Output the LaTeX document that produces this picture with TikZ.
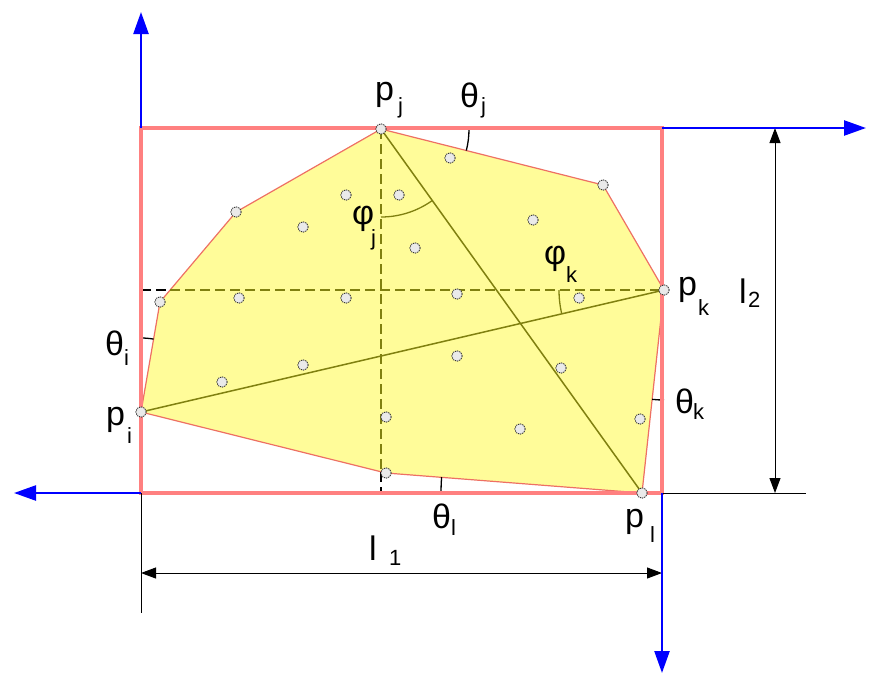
\documentclass[tikz,border=0pt]{standalone}
\usepackage{fontspec}
\setmainfont{Liberation Sans}
\usetikzlibrary{arrows.meta}
\definecolor{rectred}{RGB}{255,128,128}
\definecolor{hullfill}{RGB}{255,252,153}
\definecolor{hullline}{RGB}{238,112,100}
\definecolor{olivel}{RGB}{128,128,16}
\definecolor{ptfill}{RGB}{234,234,234}
\definecolor{axblue}{RGB}{0,0,255}
\begin{document}
\begin{tikzpicture}[x=1pt,y=-1pt,
  axis/.style={axblue,line width=2.4pt,-{Triangle[length=22pt,width=15pt]}},
  dimarrow/.style={black,line width=1pt,{Triangle[length=15pt,width=11pt]}-{Triangle[length=15pt,width=11pt]}},
  extline/.style={black,line width=1pt},
  olivesolid/.style={olivel,line width=1.5pt},
  olivedash/.style={olivel,line width=1.5pt,dash pattern=on 10pt off 5pt},
  blackdash/.style={black,line width=1.5pt,dash pattern=on 10pt off 5pt},
  tick/.style={black,line width=1.3pt},
  oarc/.style={olivel,line width=1.3pt},
  ptmark/.style={circle,minimum size=10.5pt,inner sep=0pt,fill=ptfill,draw=black!85,dash pattern=on 1.3pt off 0.9pt,line width=0.8pt},
  mainl/.style={font=\fontsize{34}{34}\selectfont,inner sep=0pt,anchor=base west},
  subl/.style={font=\fontsize{22}{22}\selectfont,inner sep=0pt,anchor=base west}]
\useasboundingbox (0,0) rectangle (876,681);
% key points
\coordinate (pI) at (141,412);
\coordinate (pJ) at (381,129);
\coordinate (pK) at (664,290);
\coordinate (pL) at (642,493);
\coordinate (h1) at (160,302);
\coordinate (h2) at (236,212);
\coordinate (h3) at (603,185);
\coordinate (h4) at (386,473);
% rectangle corners
\coordinate (rTL) at (141,128);
\coordinate (rTR) at (662,128);
\coordinate (rBL) at (141,493);
\coordinate (rBR) at (662,493);
% hull
\draw[fill=hullfill,draw=hullline,line width=1.2pt] (pI) -- (h1) -- (h2) -- (pJ) -- (h3) -- (pK) -- (pL) -- (h4) -- cycle;
% dashed lines
\coordinate (dL) at (141,290);
\coordinate (dM) at (170,290);
\coordinate (vM) at (381,472);
\coordinate (vB) at (381,493);
\draw[blackdash] (dL) -- (dM);
\draw[olivedash] (dM) -- (pK);
\draw[olivedash] (pJ) -- (vM);
\draw[blackdash] (vM) -- (vB);
% diagonals
\draw[olivesolid] (pJ) -- (pL);
\draw[olivesolid] (pI) -- (pK);
% angle arcs
\draw[oarc] (pJ) ++(90:88) arc[start angle=90,end angle=54.4,radius=88];
\draw[oarc] (pK) ++(180:105) arc[start angle=180,end angle=166.9,radius=105];
\draw[tick] (pJ) ++(0:88) arc[start angle=0,end angle=14.2,radius=88];
\draw[tick] (pK) ++(90:110) arc[start angle=90,end angle=96.2,radius=110];
\draw[tick] (pI) ++(-90:74) arc[start angle=-90,end angle=-80.2,radius=74];
\draw[tick] (pL) ++(180:201) arc[start angle=180,end angle=184.5,radius=201];
% rectangle
\draw[rectred,line width=3.5pt] (rTL) rectangle (rBR);
% extension and dimension lines
\coordinate (e1) at (141,613);
\coordinate (e2) at (806,493);
\coordinate (d1a) at (141,573);
\coordinate (d1b) at (662,573);
\coordinate (d2a) at (775,493);
\coordinate (d2b) at (775,128);
\draw[extline] (rBL) -- (e1);
\draw[extline] (rBR) -- (e2);
\draw[dimarrow] (d1a) -- (d1b);
\draw[dimarrow] (d2a) -- (d2b);
% blue axes
\coordinate (axU) at (141,12);
\coordinate (axR) at (866,128);
\coordinate (axL) at (14,493);
\coordinate (axD) at (662,673);
\draw[axis] (rTL) -- (axU);
\draw[axis] (rTR) -- (axR);
\draw[axis] (rBL) -- (axL);
\draw[axis] (rBR) -- (axD);
% points
\foreach \n/\x/\y in {a/141/412,b/381/129,c/664/290,d/642/493,e/160/302,f/236/212,g/603/185,h/386/473,
  i1/450/158,i2/346/195,i3/399/195,i4/303/227,i5/533/220,i6/415/248,i7/239/298,i8/346/298,
  i9/457/294,i10/579/298,i11/303/365,i12/457/356,i13/561/368,i14/222/382,i15/386/417,i16/520/429,i17/640/419}
  \node[ptmark] (m\n) at (\x,\y) {};
% labels
\node[mainl] (Lpj) at (375,100) {p};   \node[subl] (Lpjs) at (398,113) {j};
\node[mainl] (Ltj) at (460,107) {θ};   \node[subl] (Ltjs) at (481,113) {j};
\node[mainl] (Lfj) at (352,224) {φ};   \node[subl] (Lfjs) at (371,245) {j};
\node[mainl] (Lfk) at (544,264) {φ};   \node[subl] (Lfks) at (566,282) {k};
\node[mainl] (Lpk) at (678,295) {p};   \node[subl] (Lpks) at (698,315) {k};
\node[mainl] (Ll2) at (739,303) {l};   \node[subl] (Ll2s) at (748,307) {2};
\node[mainl] (Lti) at (105,355) {θ};   \node[subl] (Ltis) at (124,365) {i};
\node[mainl] (Lpi) at (106,425) {p};   \node[subl] (Lpis) at (127,443) {i};
\node[mainl] (Ltk) at (675,413) {θ};   \node[subl] (Ltks) at (693,419) {k};
\node[mainl] (Lpl) at (625,527) {p};   \node[subl] (Lpls) at (650,542) {l};
\node[mainl] (Ltl) at (432,528) {θ};   \node[subl] (Ltls) at (451,535) {l};
\node[mainl] (Ll1) at (369,560) {l};   \node[subl] (Ll1s) at (389,565) {1};
\end{tikzpicture}
\end{document}
